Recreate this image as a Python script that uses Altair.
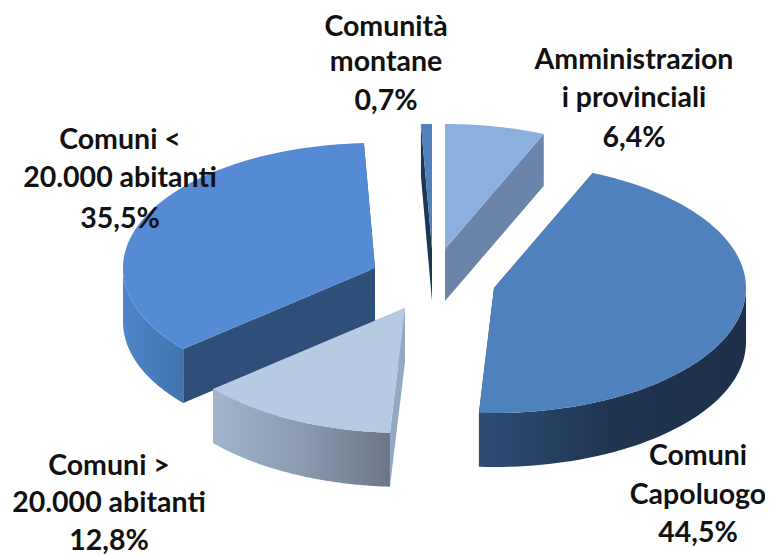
import math
import altair as alt
import pandas as pd

# Values
categories = ["Amministrazioni provinciali", "Comuni Capoluogo", "Comuni > 20.000 abitanti",
              "Comuni < 20.000 abitanti", "Comunità montane"]
shares = [6.4, 44.5, 12.8, 35.5, 0.7]

# Label lines, as broken in the picture
label_lines = [["Amministrazion", "i provinciali", "6,4%"],
               ["Comuni", "Capoluogo", "44,5%"],
               ["Comuni >", "20.000 abitanti", "12,8%"],
               ["Comuni <", "20.000 abitanti", "35,5%"],
               ["Comunità", "montane", "0,7%"]]
label_x = [634, 698, 109, 120, 386]
label_y = [[60, 98, 138], [456, 495, 533], [466, 503, 541], [140, 178, 219], [27, 62, 101]]

# 3-D pie geometry
RX, RY = 252, 125
apex = [(445, 249), (494, 288), (405, 308), (375, 268), (432, 249)]
depth = [52, 54, 54, 54, 52]
top_col = ["#8cb0dd", "#4f81bd", "#b6cbe2", "#558ad4", "#4f81bd"]
face_col = ["#6a84aa", "#2a4668", "#93a8c4", "#2e5078", "#1f3550"]
wall_col = [
    ["#6a84aa", "#6a84aa"],
    ["#2e4d75", "#1f3550", "#1e3049"],
    ["#a2b4cb", "#8a9bb0", "#6b7786"],
    ["#4f86c8", "#3f74b0"],
    ["#1f3550", "#1f3550"],
]


def pt(i, t, dz=0):
    return apex[i][0] + RX * math.sin(t), apex[i][1] - RY * math.cos(t) + dz


def grad(cols):
    n = len(cols) - 1
    return alt.LinearGradient(
        gradient="linear", x1=0, x2=1, y1=0, y2=0,
        stops=[alt.GradientStop(color=c, offset=k / n) for k, c in enumerate(cols)],
    )


layers = []
x_scale = alt.Scale(domain=[8, 765], nice=False, zero=False)
y_scale = alt.Scale(domain=[555, 8], nice=False, zero=False)


def add(points, fill):
    df = pd.DataFrame({"x": [p[0] for p in points], "y": [p[1] for p in points],
                       "seq": list(range(len(points)))})
    layers.append(
        alt.Chart(df).mark_line(fill=fill, strokeWidth=0, clip=False).encode(
            x=alt.X("x:Q", scale=x_scale, axis=None),
            y=alt.Y("y:Q", scale=y_scale, axis=None),
            order=alt.Order("seq:Q"),
        )
    )


total = sum(shares)
starts, c = [], 0.0
for s in shares:
    starts.append(c)
    c += s

for i in [0, 4, 3, 1, 2]:
    t0 = 2 * math.pi * starts[i] / total
    t1 = 2 * math.pi * (starts[i] + shares[i]) / total
    d = depth[i]
    arc = [t0 + (t1 - t0) * k / 90 for k in range(91)]
    # cut faces
    for t in (t1, t0):
        add([pt(i, t), pt(i, t, d), (apex[i][0], apex[i][1] + d), apex[i]], face_col[i])
    # outer wall: the front part of the rim only
    front = [t for t in arc if math.pi / 2 <= t <= 3 * math.pi / 2]
    if len(front) > 1:
        add([pt(i, t) for t in front] + [pt(i, t, d) for t in reversed(front)], grad(wall_col[i]))
    # top
    add([apex[i]] + [pt(i, t) for t in arc], top_col[i])

text_rows = [{"x": label_x[i], "y": label_y[i][j], "text": label_lines[i][j]}
             for i in range(len(label_lines)) for j in range(3)]
layers.append(
    alt.Chart(pd.DataFrame(text_rows)).mark_text(
        font="Lato", fontWeight="bold", fontSize=28.5, color="#111111", align="center", baseline="middle"
    ).encode(
        x=alt.X("x:Q", scale=x_scale, axis=None),
        y=alt.Y("y:Q", scale=y_scale, axis=None),
        text="text:N",
    )
)

chart = alt.layer(*layers).properties(
    width=757, height=547, padding=0, autosize=alt.AutoSizeParams(type="none")
).configure_view(stroke=None)
chart.save("out.html", embed_options={"renderer": "svg", "actions": False})
